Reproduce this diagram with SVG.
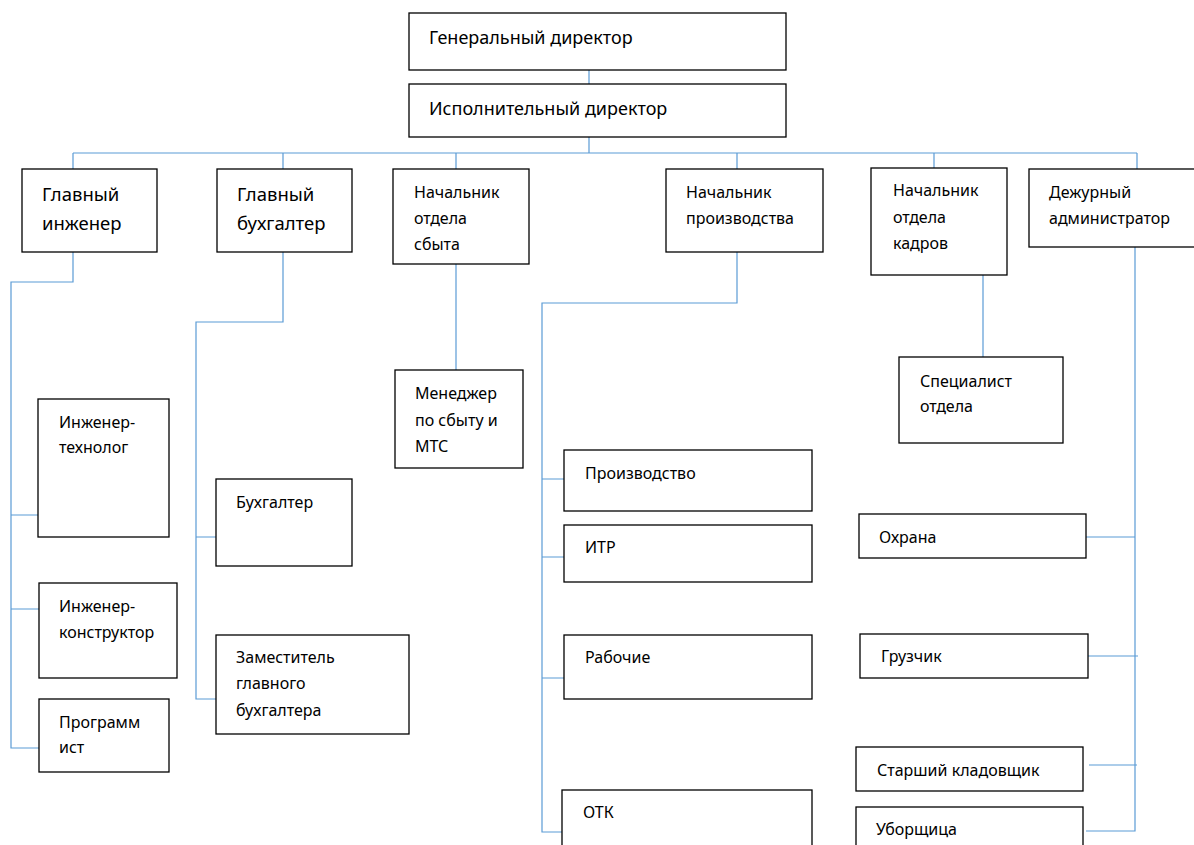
<svg xmlns="http://www.w3.org/2000/svg" width="1194" height="845" viewBox="0 0 1194 845">
<style>
.b{fill:#fff;stroke:#000;stroke-width:1.3}
.t{font-family:"Noto Sans","Open Sans",sans-serif;font-size:16px;fill:#000}
.m{font-size:18px}
.l{font-size:18.5px}
.c{fill:none;stroke:#5B9BD5;stroke-width:1.2}
</style>
<rect width="1194" height="845" fill="#fff"/>
<g id="connectors" class="c">
<path d="M589,70V84M589,137V153M73,153H1137M73,153V169M283,153V169M456,153V169M737,153V169M934,153V168M1137,153V169"/>
<path d="M73,252V282H11V748H39M11,515H38M11,609H39"/>
<path d="M283,252V322H196V699H216M196,537H216"/>
<path d="M456,264V370"/>
<path d="M737,252V303H542V832H562M542,479H564M542,557H564M542,678H564"/>
<path d="M983,275V357"/>
<path d="M1135,247V831H1086M1086,537H1135M1088,656H1138M1089,765H1137"/>
</g>
<g id="gd"><rect class="b" x="409" y="13" width="377" height="57"/><text class="t m" x="429" y="44">Генеральный директор</text></g>
<g id="id"><rect class="b" x="409" y="84" width="377" height="53"/><text class="t m" x="429" y="115">Исполнительный директор</text></g>
<g id="gi"><rect class="b" x="22" y="169" width="135" height="83"/><text class="t l" x="42" y="201">Главный</text><text class="t l" x="42" y="230">инженер</text></g>
<g id="gb"><rect class="b" x="217" y="169" width="135" height="83"/><text class="t l" x="237" y="201">Главный</text><text class="t l" x="237" y="230">бухгалтер</text></g>
<g id="ns"><rect class="b" x="393" y="169" width="136" height="95"/><text class="t" x="414" y="198">Начальник</text><text class="t" x="414" y="224">отдела</text><text class="t" x="414" y="250">сбыта</text></g>
<g id="np"><rect class="b" x="666" y="169" width="157" height="83"/><text class="t" x="686" y="198">Начальник</text><text class="t" x="686" y="224">производства</text></g>
<g id="nk"><rect class="b" x="871" y="168" width="136" height="107"/><text class="t" x="893" y="196">Начальник</text><text class="t" x="893" y="223">отдела</text><text class="t" x="893" y="249">кадров</text></g>
<g id="da"><rect class="b" x="1029" y="169" width="180" height="78"/><text class="t" x="1049" y="198">Дежурный</text><text class="t" x="1049" y="224">администратор</text></g>
<g id="it"><rect class="b" x="38" y="399" width="131" height="138"/><text class="t" x="59" y="428">Инженер-</text><text class="t" x="59" y="453">технолог</text></g>
<g id="ik"><rect class="b" x="39" y="583" width="138" height="95"/><text class="t" x="59" y="612">Инженер-</text><text class="t" x="59" y="638">конструктор</text></g>
<g id="pr"><rect class="b" x="39" y="699" width="130" height="73"/><text class="t" x="59" y="728">Программ</text><text class="t" x="59" y="753">ист</text></g>
<g id="bh"><rect class="b" x="216" y="479" width="136" height="87"/><text class="t" x="236" y="508">Бухгалтер</text></g>
<g id="zgb"><rect class="b" x="216" y="635" width="193" height="99"/><text class="t" x="236" y="663">Заместитель</text><text class="t" x="236" y="689">главного</text><text class="t" x="236" y="716">бухгалтера</text></g>
<g id="mn"><rect class="b" x="395" y="370" width="128" height="98"/><text class="t" x="415" y="399">Менеджер</text><text class="t" x="415" y="426">по сбыту и</text><text class="t" x="415" y="452">МТС</text></g>
<g id="sp"><rect class="b" x="899" y="357" width="164" height="86"/><text class="t" x="920" y="387">Специалист</text><text class="t" x="920" y="412">отдела</text></g>
<g id="prd"><rect class="b" x="564" y="450" width="248" height="61"/><text class="t" x="585" y="479">Производство</text></g>
<g id="itr"><rect class="b" x="564" y="525" width="248" height="57"/><text class="t" x="585" y="553">ИТР</text></g>
<g id="rab"><rect class="b" x="564" y="635" width="248" height="64"/><text class="t" x="585" y="663">Рабочие</text></g>
<g id="otk"><rect class="b" x="562" y="790" width="250" height="70"/><text class="t" x="583" y="818">ОТК</text></g>
<g id="oh"><rect class="b" x="859" y="514" width="227" height="44"/><text class="t" x="879" y="543">Охрана</text></g>
<g id="gr"><rect class="b" x="860" y="634" width="228" height="44"/><text class="t" x="881" y="662">Грузчик</text></g>
<g id="sk"><rect class="b" x="856" y="747" width="227" height="44"/><text class="t" x="877" y="776">Старший кладовщик</text></g>
<g id="ub"><rect class="b" x="856" y="807" width="227" height="60"/><text class="t" x="876" y="835">Уборщица</text></g>
</svg>
